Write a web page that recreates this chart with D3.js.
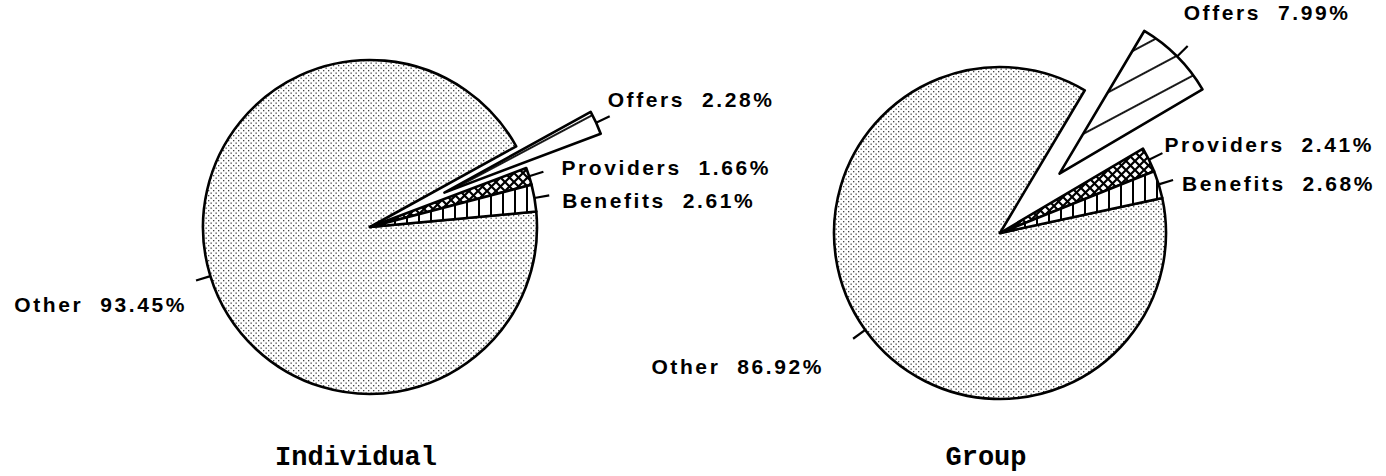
<!DOCTYPE html>
<html>
<head>
<meta charset="utf-8">
<script src="https://cdn.jsdelivr.net/npm/d3@7"></script>
<style>
  body { margin: 0; background: #fff; }
  svg { display: block; }
  .label { font-family: "Liberation Sans", Arial, sans-serif; font-weight: bold; font-size: 21px; letter-spacing: 2.6px; white-space: pre; }
  .title { font-family: "Liberation Mono", "Courier New", monospace; font-weight: bold; font-size: 27px; }
</style>
</head>
<body>
<main></main>
<script>
const categories = ["Benefits", "Providers", "Offers", "Other"];
const individualValues = [2.61, 1.66, 2.28, 93.45];
const groupValues = [2.68, 2.41, 7.99, 86.92];
const panelTitles = ["Individual", "Group"];

const width = 1386;
const height = 476;

const svg = d3.select("main")
  .append("svg")
  .attr("width", width)
  .attr("height", height);

const defs = svg.append("defs");

// fine stipple for "Other"
const dots = defs.append("pattern")
  .attr("id", "dots")
  .attr("patternUnits", "userSpaceOnUse")
  .attr("width", 5).attr("height", 5);
dots.append("rect").attr("width", 5).attr("height", 5).attr("fill", "#fff");
dots.append("rect").attr("x", 0.5).attr("y", 0.5).attr("width", 1.3).attr("height", 1.3).attr("fill", "#444");
dots.append("rect").attr("x", 3).attr("y", 3).attr("width", 1.3).attr("height", 1.3).attr("fill", "#444");

// vertical bars for "Benefits"
const vbars = defs.append("pattern")
  .attr("id", "vbars")
  .attr("patternUnits", "userSpaceOnUse")
  .attr("width", 12).attr("height", 12);
vbars.append("rect").attr("width", 12).attr("height", 12).attr("fill", "#fff");
vbars.append("rect").attr("x", 0).attr("width", 2).attr("height", 12).attr("fill", "#000");

// cross hatch for "Providers"
const cross = defs.append("pattern")
  .attr("id", "cross")
  .attr("patternUnits", "userSpaceOnUse")
  .attr("width", 9).attr("height", 9);
cross.append("rect").attr("width", 9).attr("height", 9).attr("fill", "#fff");
cross.append("path").attr("d", "M0,0L9,9M9,0L0,9").attr("stroke", "#000").attr("stroke-width", 2.2);

// wide slanted lines for "Offers"
const slant = defs.append("pattern")
  .attr("id", "slant")
  .attr("patternUnits", "userSpaceOnUse")
  .attr("width", 25).attr("height", 25)
  .attr("patternTransform", "rotate(-28)");
slant.append("rect").attr("width", 25).attr("height", 25).attr("fill", "#fff");
slant.append("line").attr("x1", 0).attr("x2", 25).attr("y1", 1).attr("y2", 1)
  .attr("stroke", "#000").attr("stroke-width", 1.8);

const fills = d3.scaleOrdinal()
  .domain(categories)
  .range(["url(#vbars)", "url(#cross)", "url(#slant)", "url(#dots)"]);

const deg = Math.PI / 180;

// pie placement and label nudges per panel
const panels = [
  { values: individualValues, title: panelTitles[0], cx: 370, cy: 227, r: 167, start: 5.3, explode: 82,
    nudge: { Offers: [-2, -17], Providers: [18, -4], Benefits: [13, 5], Other: [-9, 24] } },
  { values: groupValues, title: panelTitles[1], cx: 1000, cy: 233, r: 166, start: 12.2, explode: 84,
    nudge: { Offers: [-4, -33], Providers: [2, -9], Benefits: [9, 3], Other: [-29, 28] } }
];

panels.forEach(p => {
  const data = categories.map((c, i) => ({ name: c, value: p.values[i] }));

  // counter-clockwise from p.start degrees above 3 o'clock
  const a0 = Math.PI / 2 - p.start * deg;
  const pie = d3.pie()
    .sort(null)
    .value(d => d.value)
    .startAngle(a0)
    .endAngle(a0 - 2 * Math.PI);

  const arcs = pie(data);
  const arc = d3.arc().innerRadius(0).outerRadius(p.r);

  const g = svg.append("g")
    .attr("transform", `translate(${p.cx}, ${p.cy})`);

  const offset = d => d.data.name === "Offers" ? p.explode : 0;
  const mid = d => (d.startAngle + d.endAngle) / 2;

  const order = arcs.slice().reverse();

  g.selectAll("path.slice")
    .data(order)
    .enter()
    .append("path")
    .attr("class", "slice")
    .attr("transform", d => {
      const m = mid(d), o = offset(d);
      return `translate(${o * Math.sin(m)}, ${-o * Math.cos(m)})`;
    })
    .attr("d", arc)
    .attr("fill", d => fills(d.data.name))
    .attr("stroke", "#000")
    .attr("stroke-width", 2.6)
    .attr("stroke-linejoin", "round");

  const leader = d => {
    const m = mid(d), rr = p.r + offset(d);
    return [
      [rr * Math.sin(m), -rr * Math.cos(m)],
      [(rr + 15) * Math.sin(m), -(rr + 15) * Math.cos(m)]
    ];
  };

  g.selectAll("line.leader")
    .data(arcs)
    .enter()
    .append("line")
    .attr("class", "leader")
    .attr("x1", d => leader(d)[0][0])
    .attr("y1", d => leader(d)[0][1])
    .attr("x2", d => leader(d)[1][0])
    .attr("y2", d => leader(d)[1][1])
    .attr("stroke", "#000")
    .attr("stroke-width", 2.2);

  g.selectAll("text.label")
    .data(arcs)
    .enter()
    .append("text")
    .attr("class", "label")
    .attr("x", d => leader(d)[1][0] + p.nudge[d.data.name][0])
    .attr("y", d => leader(d)[1][1] + p.nudge[d.data.name][1])
    .attr("dy", "0.36em")
    .attr("text-anchor", d => Math.sin(mid(d)) < 0 ? "end" : "start")
    .text(d => `${d.data.name}  ${d.data.value.toFixed(2)}%`);

  svg.append("text")
    .attr("class", "title")
    .attr("x", p.cx - 14)
    .attr("y", 465)
    .attr("text-anchor", "middle")
    .text(p.title);
});
</script>
</body>
</html>
